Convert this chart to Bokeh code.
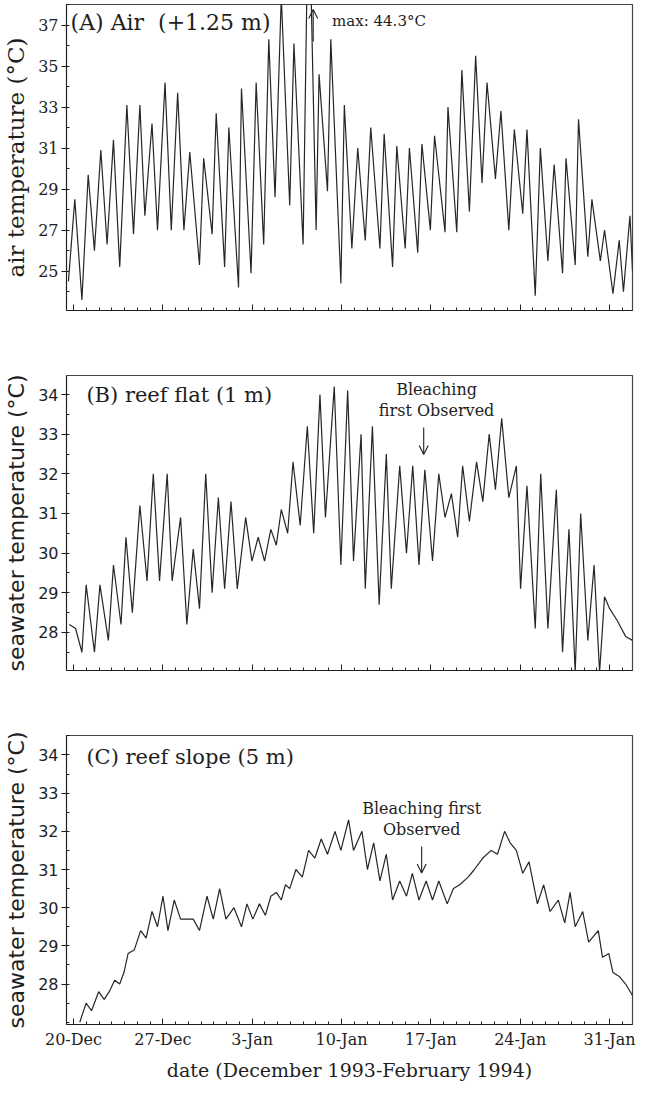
from bokeh.plotting import figure
from bokeh.layouts import column
from bokeh.models import FixedTicker, Label, Arrow, OpenHead, Range1d
from bokeh.embed import file_html
from bokeh.resources import INLINE

# ---------------- data (days after 20-Dec-1993, temperature °C) ----------------
date_ticks = [0, 7, 14, 21, 28, 35, 42]
date_labels = ["20-Dec", "27-Dec", "3-Jan", "10-Jan", "17-Jan", "24-Jan", "31-Jan"]

air_day = [-0.4, 0.1, 0.66, 1.15, 1.64, 2.14, 2.63, 3.13, 3.62, 4.18, 4.70, 5.20, 5.59,
           6.15, 6.58, 7.17, 7.66, 8.16, 8.65, 9.11, 9.87, 10.20, 10.86, 11.18, 11.84,
           12.17, 12.93, 13.16, 13.91, 14.31, 14.90, 15.30, 15.79, 16.28, 16.94, 17.27,
           17.99, 18.42, 19.01, 19.24, 19.90, 20.16, 20.95, 21.22, 21.81, 22.27, 22.86,
           23.29, 24.01, 24.34, 25.00, 25.33, 25.99, 26.32, 26.97, 27.30, 27.96, 28.29,
           29.11, 29.34, 30.03, 30.43, 31.02, 31.51, 32.01, 32.40, 33.06, 33.49, 34.11,
           34.54, 35.20, 35.53, 36.18, 36.58, 37.17, 37.66, 38.32, 38.59, 39.31, 39.57,
           40.30, 40.62, 41.28, 41.61, 42.27, 42.76, 43.09, 43.60, 43.80]
air_temp = [24.5, 28.5, 23.6, 29.7, 26.0, 30.9, 26.3, 31.4, 25.2, 33.1, 26.8, 33.1, 27.7,
            32.2, 27.0, 34.2, 27.0, 33.7, 27.0, 30.8, 25.3, 30.5, 26.8, 32.7, 25.2,
            32.0, 24.2, 33.9, 24.9, 34.2, 26.3, 36.3, 28.6, 38.4, 28.2, 36.1,
            26.3, 44.3, 27.0, 34.6, 28.9, 36.3, 24.4, 33.1, 26.1, 31.0, 26.5,
            32.0, 26.1, 31.7, 25.2, 31.1, 26.1, 31.0, 25.9, 31.2, 27.0, 31.6,
            26.9, 33.0, 26.9, 34.8, 27.9, 35.5, 29.3, 34.2, 29.5, 32.8, 27.0,
            31.9, 27.8, 31.9, 23.8, 31.0, 25.5, 30.2, 24.9, 30.5, 25.3, 32.4,
            25.7, 28.5, 25.5, 27.0, 23.9, 26.5, 24.0, 27.7, 25.0]

flat_day = [-0.33, 0.16, 0.66, 0.99, 1.64, 2.07, 2.73, 3.13, 3.72, 4.11, 4.61, 5.20, 5.76,
            6.25, 6.74, 7.34, 7.73, 8.39, 8.88, 9.38, 9.87, 10.36, 10.86, 11.35, 11.84,
            12.34, 12.83, 13.49, 13.98, 14.47, 14.97, 15.46, 15.89, 16.28, 16.78, 17.20,
            17.76, 18.32, 18.82, 19.31, 19.74, 20.43, 20.95, 21.48, 21.94, 22.53, 22.86,
            23.42, 23.95, 24.51, 24.90, 25.56, 26.09, 26.58, 27.07, 27.53, 28.13, 28.62,
            29.11, 29.61, 30.10, 30.49, 31.02, 31.58, 32.07, 32.57, 33.06, 33.55, 34.11,
            34.70, 35.03, 35.53, 36.18, 36.61, 37.17, 37.83, 38.32, 38.82, 39.31, 39.74,
            40.30, 40.79, 41.22, 41.61, 42.01, 42.60, 43.26, 43.80]
flat_temp = [28.2, 28.1, 27.5, 29.2, 27.5, 29.2, 27.8, 29.7, 28.2, 30.4, 28.5, 31.2, 29.3,
             32.0, 29.3, 32.0, 29.3, 30.9, 28.2, 30.1, 28.6, 32.0, 29.0, 31.4, 29.1,
             31.3, 29.1, 30.9, 29.8, 30.4, 29.8, 30.6, 30.2, 31.1, 30.5, 32.3,
             30.7, 33.2, 30.5, 34.0, 30.9, 34.2, 29.7, 34.1, 29.8, 33.0, 29.1,
             33.2, 28.7, 32.5, 29.1, 32.2, 30.0, 32.2, 29.7, 32.1, 29.8, 32.0,
             30.9, 31.5, 30.4, 32.2, 30.8, 32.3, 31.3, 33.0, 31.6, 33.4, 31.4,
             32.2, 29.1, 31.7, 28.1, 32.0, 28.1, 31.6, 27.5, 30.6, 27.0, 31.0,
             27.8, 29.7, 27.0, 28.9, 28.6, 28.3, 27.9, 27.8]

slope_day = [0.49, 0.99, 1.41, 1.97, 2.40, 2.80, 3.22, 3.62, 3.95, 4.28, 4.77, 5.26, 5.69,
             6.15, 6.58, 7.01, 7.40, 7.89, 8.39, 8.88, 9.38, 9.87, 10.46, 10.95, 11.45,
             11.94, 12.57, 13.16, 13.59, 14.05, 14.57, 15.03, 15.46, 15.89, 16.28, 16.61,
             16.94, 17.43, 17.93, 18.42, 18.91, 19.41, 19.90, 20.49, 20.95, 21.55, 21.94,
             22.60, 23.03, 23.52, 24.01, 24.51, 25.00, 25.56, 26.09, 26.55, 27.07, 27.63,
             28.13, 28.62, 29.28, 29.77, 30.26, 30.92, 31.41, 32.07, 32.73, 33.22, 33.78,
             34.21, 34.70, 35.20, 35.69, 36.35, 36.84, 37.34, 37.99, 38.49, 38.91, 39.31,
             39.90, 40.36, 41.12, 41.45, 41.94, 42.27, 42.76, 43.26, 43.80]
slope_temp = [27.0, 27.5, 27.3, 27.8, 27.6, 27.8, 28.1, 28.0, 28.3, 28.8, 28.9, 29.4, 29.2,
              29.9, 29.5, 30.3, 29.4, 30.2, 29.7, 29.7, 29.7, 29.4, 30.3, 29.7, 30.5,
              29.7, 30.0, 29.5, 30.1, 29.7, 30.1, 29.8, 30.3, 30.4, 30.2, 30.6,
              30.5, 31.0, 30.8, 31.5, 31.3, 31.8, 31.4, 32.0, 31.5, 32.3, 31.5,
              32.0, 31.0, 31.7, 30.7, 31.4, 30.2, 30.7, 30.3, 30.9, 30.2, 30.7,
              30.2, 30.7, 30.1, 30.5, 30.6, 30.8, 31.0, 31.3, 31.5, 31.4, 32.0,
              31.7, 31.5, 30.9, 31.2, 30.1, 30.6, 29.9, 30.2, 29.6, 30.4, 29.5,
              29.9, 29.1, 29.4, 28.7, 28.8, 28.3, 28.2, 28.0, 27.7]

x_title = "date (December 1993-February 1994)"

# ---------------- styling helpers ----------------
SERIF = "DejaVu Serif"
SANS = "DejaVu Sans"
INK = "#1e1e1e"
XR = (-0.55, 43.8)


def base_fig(height, ylim, top, bottom, ylabel, yfont, ysize, yticks, yminor, show_x):
    p = figure(width=638, height=height, x_range=Range1d(*XR), y_range=Range1d(*ylim),
               output_backend="svg", toolbar_location=None,
               min_border_left=63, min_border_right=6,
               min_border_top=top, min_border_bottom=bottom)
    p.background_fill_color = "white"
    p.border_fill_color = "white"
    p.grid.visible = False
    p.outline_line_color = "#444444"
    p.outline_line_width = 1.2

    xa = p.xaxis[0]
    xa.ticker = FixedTicker(ticks=date_ticks, minor_ticks=list(range(0, 44)))
    xa.major_label_overrides = {t: l for t, l in zip(date_ticks, date_labels)}
    xa.major_tick_in = 6
    xa.major_tick_out = 0
    xa.minor_tick_in = 3
    xa.minor_tick_out = 0
    xa.axis_line_color = INK
    xa.major_tick_line_color = INK
    xa.minor_tick_line_color = INK
    xa.major_label_text_font = SERIF
    xa.major_label_text_font_size = "16px"
    xa.major_label_text_line_height = 0.7
    if show_x:
        xa.major_label_text_color = INK
        xa.major_label_standoff = 5
        xa.axis_label = x_title
        xa.axis_label_text_font = SERIF
        xa.axis_label_text_font_size = "19px"
        xa.axis_label_text_font_style = "normal"
        xa.axis_label_text_color = INK
        xa.axis_label_text_line_height = 0.5
        xa.axis_label_standoff = 7
    else:
        # tick marks only: labels are not drawn on the upper panels
        xa.major_label_text_color = None
        xa.major_label_standoff = 0

    ya = p.yaxis[0]
    ya.ticker = FixedTicker(ticks=yticks, minor_ticks=yminor)
    ya.major_tick_out = 5
    ya.major_tick_in = 0
    ya.minor_tick_out = 0
    ya.minor_tick_in = 3
    ya.axis_line_color = INK
    ya.major_tick_line_color = INK
    ya.minor_tick_line_color = INK
    ya.major_label_text_font = yfont
    ya.major_label_text_font_size = ysize
    ya.major_label_text_color = INK
    ya.major_label_standoff = 3
    ya.axis_label = ylabel
    ya.axis_label_text_font = yfont
    ya.axis_label_text_font_size = "22px" if yfont == SANS else "23px"
    ya.axis_label_text_font_style = "normal"
    ya.axis_label_text_color = INK
    ya.axis_label_standoff = 6
    return p


def note(p, x, y, text, size, align="left"):
    p.add_layout(Label(x=x, y=y, text=text, text_font=SERIF, text_font_size=size,
                       text_color=INK, text_align=align, text_baseline="middle"))


def arrow(p, x, y0, y1):
    p.add_layout(Arrow(end=OpenHead(size=9, line_width=1.1, line_color=INK),
                       x_start=x, y_start=y0, x_end=x, y_end=y1,
                       line_width=1.1, line_color=INK))


# ---------------- panel A ----------------
pa = base_fig(332, (23.08, 38.0), 4, 22, "air temperature (°C)", SERIF, "16px",
              [25, 27, 29, 31, 33, 35, 37], list(range(24, 39)), False)
pa.line(air_day, air_temp, line_color="#262626", line_width=1.2)
note(pa, -0.23, 37.1, "(A) Air\u00a0\u00a0(+1.25 m)", "22px")
note(pa, 20.26, 37.2, "max: 44.3°C", "15px")
arrow(pa, 18.78, 36.19, 37.76)

# ---------------- panel B ----------------
pb = base_fig(360, (27.04, 34.48), 43, 22, "seawater temperature (°C)", SANS, "16px",
              [28, 29, 30, 31, 32, 33, 34], [x / 2 for x in range(54, 70)], False)
pb.line(flat_day, flat_temp, line_color="#262626", line_width=1.2)
note(pb, 1.01, 34.0, "(B) reef flat (1 m)", "21px")
note(pb, 28.45, 34.13, "Bleaching", "16px", "center")
note(pb, 28.45, 33.6, "first Observed", "16px", "center")
arrow(pb, 27.44, 33.17, 32.49)

# ---------------- panel C ----------------
pc = base_fig(396, (26.94, 34.51), 43, 64, "seawater temperature (°C)", SANS, "16px",
              [28, 29, 30, 31, 32, 33, 34], [x / 2 for x in range(54, 70)], True)
pc.line(slope_day, slope_temp, line_color="#262626", line_width=1.2)
note(pc, 1.01, 33.95, "(C) reef slope (5 m)", "21px")
note(pc, 27.28, 32.61, "Bleaching first", "16px", "center")
note(pc, 27.28, 32.05, "Observed", "16px", "center")
arrow(pc, 27.28, 31.6, 30.91)

layout = column(pa, pb, pc)
open("out.html", "w").write(file_html(layout, INLINE))
